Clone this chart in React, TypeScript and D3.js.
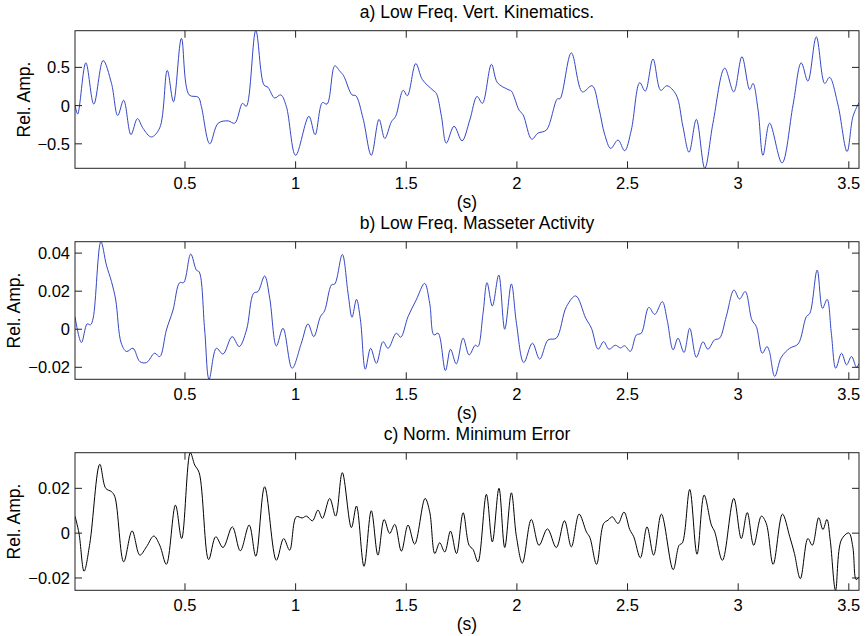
import React from 'react';
import * as d3 from 'd3';

// time (s) / relative amplitude
const kinematics: [number, number][] = [
  [0.003, 0.01], [0.015, -0.11], [0.052, 0.56], [0.088, 0.02], [0.13, 0.59], [0.168, 0.29],
  [0.196, -0.13], [0.223, 0.07], [0.256, -0.38], [0.285, -0.17], [0.311, -0.3], [0.348, -0.41],
  [0.386, -0.29], [0.42, 0.46], [0.448, 0.05], [0.484, 0.88], [0.519, 0.14], [0.56, 0.11],
  [0.574, -0.01], [0.612, -0.5], [0.65, -0.23], [0.695, -0.2], [0.725, -0.23], [0.76, 0.03],
  [0.777, -0.01], [0.82, 0.98], [0.857, 0.27], [0.875, 0.24], [0.905, 0.1], [0.933, 0.14],
  [0.958, -0.01], [1.0, -0.65], [1.06, -0.14], [1.088, -0.38], [1.121, 0.04], [1.142, 0.02],
  [1.177, 0.52], [1.2, 0.45], [1.217, 0.39], [1.255, 0.14], [1.272, 0.13], [1.305, -0.17],
  [1.342, -0.65], [1.377, -0.18], [1.403, -0.43], [1.433, -0.21], [1.452, -0.14], [1.486, 0.2],
  [1.505, 0.13], [1.543, 0.55], [1.573, 0.34], [1.621, 0.2], [1.636, 0.16], [1.659, -0.14],
  [1.681, -0.49], [1.716, -0.27], [1.752, -0.46], [1.787, -0.19], [1.82, 0.12], [1.844, 0.03],
  [1.885, 0.54], [1.912, 0.3], [1.96, 0.21], [1.975, 0.19], [2.01, -0.06], [2.028, -0.12],
  [2.067, -0.44], [2.095, -0.36], [2.133, -0.32], [2.183, 0.09], [2.195, 0.09], [2.246, 0.69],
  [2.296, 0.18], [2.34, 0.26], [2.371, -0.04], [2.397, -0.38], [2.424, -0.56], [2.457, -0.45],
  [2.487, -0.59], [2.517, -0.32], [2.555, 0.3], [2.58, 0.19], [2.615, 0.61], [2.65, 0.2],
  [2.678, 0.26], [2.72, 0.14], [2.75, -0.27], [2.778, -0.61], [2.811, -0.18], [2.849, -0.82],
  [2.886, -0.23], [2.939, 0.49], [2.98, 0.18], [3.017, 0.64], [3.052, 0.21], [3.067, 0.29],
  [3.09, -0.06], [3.112, -0.65], [3.142, -0.23], [3.198, -0.75], [3.248, 0.01], [3.285, 0.56],
  [3.315, 0.32], [3.353, 0.9], [3.391, 0.29], [3.413, 0.37], [3.451, 0.01], [3.492, -0.6],
  [3.519, -0.14], [3.546, 0.04],
];

const masseter: [number, number][] = [
  [0.003, 0.0066], [0.032, -0.007], [0.058, 0.0028], [0.073, 0.0023], [0.085, 0.0058], [0.12, 0.046],
  [0.145, 0.0337], [0.168, 0.025], [0.187, 0.0154], [0.212, -0.0073], [0.236, -0.0117], [0.265, -0.01],
  [0.296, -0.017], [0.326, -0.0175], [0.363, -0.0126], [0.386, -0.0144], [0.416, -0.0004], [0.446, 0.0101],
  [0.476, 0.0245], [0.494, 0.0245], [0.526, 0.0395], [0.552, 0.031], [0.564, 0.0302], [0.589, -0.0004],
  [0.609, -0.0263], [0.642, -0.01], [0.672, -0.013], [0.713, -0.0039], [0.745, -0.0091], [0.778, -0.0004],
  [0.81, 0.0189], [0.83, 0.0198], [0.86, 0.028], [0.883, 0.0163], [0.913, -0.0088], [0.943, 0.0005],
  [0.984, -0.0205], [1.026, -0.0073], [1.056, 0.0028], [1.082, -0.0039], [1.112, 0.0066], [1.131, 0.0097],
  [1.162, 0.0233], [1.177, 0.0238], [1.211, 0.0393], [1.237, 0.0189], [1.255, 0.0063], [1.275, 0.0157],
  [1.293, 0.0049], [1.315, -0.021], [1.339, -0.01], [1.365, -0.0179], [1.395, -0.0065], [1.418, -0.01],
  [1.455, -0.0021], [1.475, -0.0042], [1.508, 0.0066], [1.545, 0.0154], [1.583, 0.0241], [1.606, 0.0136],
  [1.625, -0.003], [1.644, -0.0021], [1.677, -0.0217], [1.7, -0.0105], [1.726, -0.0182], [1.757, -0.0047],
  [1.784, -0.0135], [1.812, -0.0084], [1.824, -0.0091], [1.847, 0.0084], [1.865, 0.0245], [1.889, 0.0122],
  [1.918, 0.0285], [1.945, 0.0], [1.975, 0.0238], [1.998, 0.0031], [2.031, -0.0175], [2.07, -0.0073],
  [2.103, -0.0157], [2.141, -0.0056], [2.178, -0.0047], [2.224, 0.0119], [2.266, 0.0175], [2.311, 0.0058],
  [2.337, 0.0005], [2.367, -0.0105], [2.392, -0.0065], [2.416, -0.0105], [2.445, -0.0084], [2.468, -0.0098],
  [2.487, -0.0087], [2.513, -0.0116], [2.54, -0.003], [2.562, -0.0021], [2.596, 0.0115], [2.623, 0.0078],
  [2.657, 0.0145], [2.679, 0.0049], [2.706, -0.0108], [2.728, -0.0047], [2.755, -0.0122], [2.781, 0.0005],
  [2.811, -0.0147], [2.841, -0.0066], [2.863, -0.0105], [2.893, -0.0056], [2.916, -0.0047], [2.946, 0.0066],
  [2.981, 0.0206], [3.006, 0.0159], [3.032, 0.0198], [3.062, 0.0049], [3.082, 0.0014], [3.109, -0.0126],
  [3.13, -0.0091], [3.141, -0.0116], [3.165, -0.0248], [3.195, -0.0147], [3.233, -0.01], [3.271, -0.0077],
  [3.308, 0.0066], [3.324, 0.0084], [3.357, 0.0311], [3.381, 0.011], [3.402, 0.0157], [3.421, -0.0021],
  [3.441, -0.0205], [3.467, -0.0126], [3.49, -0.0187], [3.512, -0.0143], [3.535, -0.02], [3.546, -0.018],
];

const minError: [number, number][] = [
  [0.003, 0.0076], [0.021, 0.0], [0.044, -0.017], [0.07, -0.0046], [0.115, 0.0307], [0.142, 0.02],
  [0.168, 0.0185], [0.183, 0.0163], [0.223, -0.0128], [0.261, 0.001], [0.296, -0.0098], [0.326, -0.0061],
  [0.359, -0.0013], [0.386, -0.0054], [0.416, -0.0139], [0.457, 0.0125], [0.485, -0.0024], [0.524, 0.0359],
  [0.544, 0.0304], [0.564, 0.027], [0.607, -0.0118], [0.639, -0.0016], [0.672, -0.0064], [0.714, 0.0028],
  [0.75, -0.0079], [0.79, 0.0036], [0.82, -0.0103], [0.86, 0.0207], [0.913, -0.0121], [0.946, -0.0024],
  [0.973, -0.0076], [1.003, 0.0073], [1.03, 0.0068], [1.049, 0.0076], [1.076, 0.0055], [1.101, 0.0103],
  [1.121, 0.0066], [1.154, 0.0155], [1.181, 0.0076], [1.211, 0.027], [1.252, 0.0025], [1.275, 0.0121],
  [1.309, -0.0148], [1.342, 0.01], [1.372, -0.0098], [1.4, 0.0061], [1.425, -0.0001], [1.448, 0.0039],
  [1.478, -0.008], [1.508, 0.0036], [1.538, -0.0049], [1.585, 0.0155], [1.606, 0.0095], [1.629, -0.0091],
  [1.651, -0.0043], [1.674, -0.0084], [1.7, 0.0009], [1.727, -0.0091], [1.757, 0.0091], [1.784, -0.0054],
  [1.802, -0.0073], [1.824, -0.0128], [1.862, 0.0173], [1.889, -0.0039], [1.919, 0.02], [1.945, -0.0064],
  [1.975, 0.018], [1.998, -0.0016], [2.025, -0.0133], [2.065, 0.0061], [2.1, -0.0054], [2.138, 0.0019],
  [2.178, -0.0064], [2.215, 0.0055], [2.246, -0.0061], [2.281, 0.0085], [2.314, 0.0006], [2.33, -0.002],
  [2.36, -0.0139], [2.392, 0.0043], [2.412, 0.0058], [2.431, 0.0073], [2.457, 0.0043], [2.484, 0.0094],
  [2.51, 0.0016], [2.528, -0.0016], [2.558, -0.011], [2.588, 0.0028], [2.618, -0.0098], [2.653, 0.0085],
  [2.706, -0.0163], [2.733, -0.0054], [2.748, -0.0043], [2.781, 0.0195], [2.814, -0.0094], [2.846, 0.017],
  [2.879, 0.0036], [2.894, 0.0006], [2.929, -0.0121], [2.98, 0.0155], [3.014, -0.0024], [3.041, 0.0092],
  [3.07, -0.0054], [3.105, 0.0076], [3.127, 0.0043], [3.158, -0.0139], [3.2, 0.0085], [3.233, -0.0016],
  [3.254, -0.009], [3.281, -0.0203], [3.315, -0.0024], [3.335, -0.0054], [3.364, 0.0069], [3.383, 0.0016],
  [3.401, 0.0061], [3.416, -0.0031], [3.44, -0.0255], [3.466, -0.0031], [3.5, 0.0001], [3.518, -0.0061],
  [3.533, -0.0207], [3.546, -0.0195],
];

const titles = ['a) Low Freq. Vert. Kinematics.', 'b) Low Freq. Masseter Activity', 'c) Norm. Minimum Error'];
const xTicks = [0.5, 1, 1.5, 2, 2.5, 3, 3.5];
const yTicksA = [-0.5, 0, 0.5];
const yTicksB = [-0.02, 0, 0.02, 0.04];
const yTicksC = [-0.02, 0, 0.02];

const W = 865;
const H = 636;
const left = 75;
const right = 859;
const plotH = 137.6;
const tops = [30.7, 241.7, 452.7];
const font = '"Liberation Sans", Arial, sans-serif';
const blue = '#3447c4';

const fmt = (v: number) => String(v).replace('-', '\u2212');

const Panel = ({ data, title, yTicks, top, color, labelX, idx }: any) => {
  const bottom = top + plotH;
  const x = d3.scaleLinear().domain([0.003, 3.546]).range([left, right]);
  const y = d3.scaleLinear().domain(d3.extent(data, (d: [number, number]) => d[1]) as [number, number]).range([bottom, top]);
  const line = d3.line<[number, number]>()
    .x(d => x(d[0]))
    .y(d => y(d[1]))
    .curve(d3.curveCatmullRom.alpha(0.5));
  const tick = 7;
  const clipId = `clip${idx}`;
  return (
    <g>
      <defs>
        <clipPath id={clipId}>
          <rect x={left} y={top} width={right - left} height={plotH} />
        </clipPath>
      </defs>
      <path d={line(data) || ''} fill="none" stroke={color} strokeWidth={1} clipPath={`url(#${clipId})`} />
      <rect x={left} y={top} width={right - left} height={plotH} fill="none" stroke="#222" strokeWidth={1} />
      {xTicks.map(t => (
        <g key={t}>
          <line x1={x(t)} x2={x(t)} y1={bottom} y2={bottom - tick} stroke="#222" />
          <line x1={x(t)} x2={x(t)} y1={top} y2={top + tick} stroke="#222" />
          <text x={x(t)} y={bottom + 15} textAnchor="middle" dominantBaseline="central" fontSize={16.5} fontFamily={font}>{fmt(t)}</text>
        </g>
      ))}
      {yTicks.map((t: number) => (
        <g key={t}>
          <line x1={left} x2={left + tick} y1={y(t)} y2={y(t)} stroke="#222" />
          <line x1={right} x2={right - tick} y1={y(t)} y2={y(t)} stroke="#222" />
          <text x={left - 5} y={y(t)} textAnchor="end" dominantBaseline="central" fontSize={16.5} fontFamily={font}>{fmt(t)}</text>
        </g>
      ))}
      <text x={477} y={top - 19} textAnchor="middle" dominantBaseline="central" fontSize={17.5} fontFamily={font}>{title}</text>
      <text x={(left + right) / 2} y={bottom + 34} textAnchor="middle" dominantBaseline="central" fontSize={17.5} fontFamily={font}>(s)</text>
      <text transform={`translate(${labelX},${(top + bottom) / 2}) rotate(-90)`} textAnchor="middle" dominantBaseline="central" fontSize={17.5} fontFamily={font}>Rel. Amp.</text>
    </g>
  );
};

export default function App() {
  const panels = [
    { data: kinematics, yTicks: yTicksA, color: blue, labelX: 23.5 },
    { data: masseter, yTicks: yTicksB, color: blue, labelX: 13.5 },
    { data: minError, yTicks: yTicksC, color: '#000', labelX: 13.5 },
  ];
  return (
    <div style={{ position: 'absolute', left: 0, top: 0, width: W, height: H, background: '#fff' }}>
      <svg width={W} height={H} viewBox={`0 0 ${W} ${H}`} style={{ display: 'block' }}>
        <rect width={W} height={H} fill="#fff" />
        {panels.map((p, i) => (
          <Panel key={i} idx={i} {...p} title={titles[i]} top={tops[i]} />
        ))}
      </svg>
    </div>
  );
}
